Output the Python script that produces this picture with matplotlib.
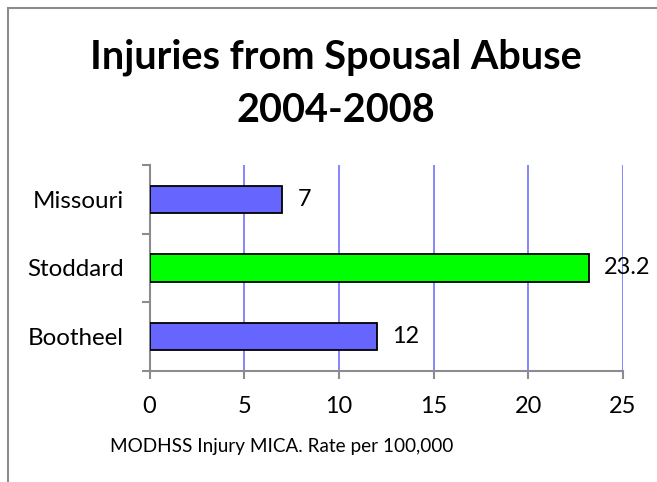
import numpy as np
import matplotlib.pyplot as plt
from matplotlib.patches import Rectangle

# data
counties = ["Bootheel", "Stoddard", "Missouri"]
rates = [12, 23.2, 7]
bar_colors = ["#6666FF", "#00FF00", "#6666FF"]
rate_labels = ["12", "23.2", "7"]
x_ticks = [0, 5, 10, 15, 20, 25]

title_1 = "Injuries from Spousal Abuse"
title_2 = "2004-2008"
source = "MODHSS Injury MICA. Rate per 100,000"

plt.rcParams['font.family'] = ['Lato', 'DejaVu Sans']

W, H = 657, 482
fig = plt.figure(figsize=(W / 100, H / 100), dpi=100)
renderer = fig.canvas.get_renderer()


def fit_size(txt, target_px, **kw):
    # font size that makes txt about target_px wide
    t = fig.text(0, 0, txt, fontsize=20, **kw)
    w = t.get_window_extent(renderer=renderer).width
    t.remove()
    return 20 * target_px / w


title_size = fit_size(title_1, 492, fontweight="bold")
cat_size = fit_size("Missouri", 91)
num_size = fit_size("23.2", 46)
src_size = fit_size(source, 343)

# outer chart border
fig.patches.append(Rectangle((8 / W, -0.05), 1.0, 1 - 8 / H + 0.05,
                             transform=fig.transFigure, fill=False,
                             edgecolor="#8c8c8c", linewidth=1.5))

ax = fig.add_axes([149.5 / W, (H - 371) / H, 473.5 / W, 206 / H])

y = np.arange(len(counties))
ax.barh(y, rates, height=0.4, color=bar_colors, edgecolor="black", linewidth=1.3, zorder=3)

for yi, val, lab in zip(y, rates, rate_labels):
    ax.annotate(lab, (val, yi), xytext=(11, 0), textcoords="offset points",
                va="center", ha="left", fontsize=num_size)

ax.set_xlim(0, 25)
ax.set_ylim(-0.5, 2.5)
ax.set_xticks(x_ticks)
ax.set_xticklabels([str(t) for t in x_ticks], fontsize=num_size)
ax.set_yticks(y)
ax.set_yticklabels(counties, fontsize=cat_size)
ax.tick_params(axis="y", length=0, pad=18.5)
ax.tick_params(axis="x", length=6, width=1.5, color="#8c8c8c", pad=12)

# category separator ticks on y axis
ax.set_yticks([-0.5, 0.5, 1.5, 2.5], minor=True)
ax.tick_params(axis="y", which="minor", length=6, width=1.5, color="#8c8c8c")

ax.grid(axis="x", color="#6666FF", linewidth=1.1, zorder=0)
for s in ["top", "right"]:
    ax.spines[s].set_visible(False)
for s in ["left", "bottom"]:
    ax.spines[s].set_color("#8c8c8c")
    ax.spines[s].set_linewidth(1.5)

fig.text(336 / W, 1 - 68 / H, title_1, ha="center", va="baseline",
         fontsize=title_size, fontweight="bold")
fig.text(336 / W, 1 - 122 / H, title_2, ha="center", va="baseline",
         fontsize=title_size, fontweight="bold")
fig.text(110 / W, 1 - 452 / H, source, ha="left", va="baseline", fontsize=src_size)

fig.savefig("out.png", dpi=100)
